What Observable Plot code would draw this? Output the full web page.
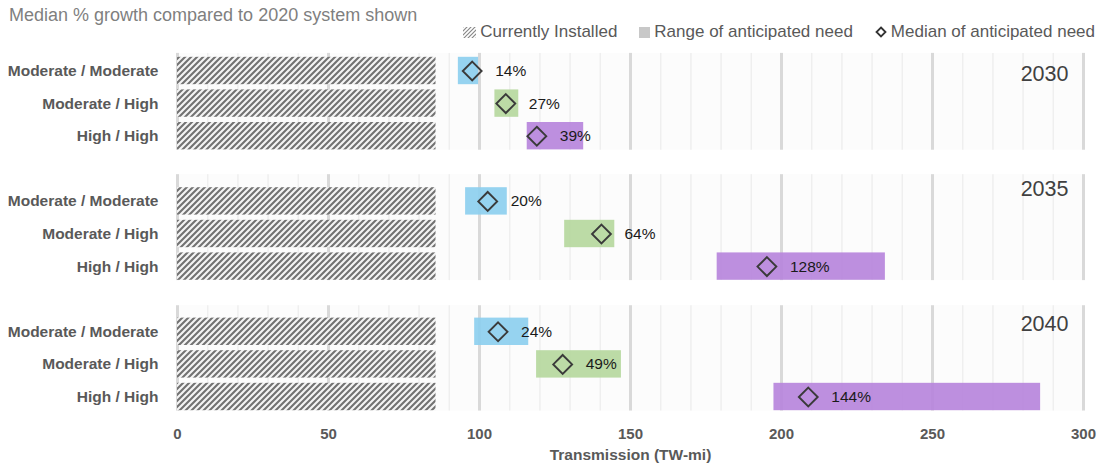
<!DOCTYPE html>
<html>
<head>
<meta charset="utf-8">
<script src="https://cdn.jsdelivr.net/npm/d3@7"></script>
<script src="https://cdn.jsdelivr.net/npm/@observablehq/plot@0.6"></script>
<style>
  body { margin: 0; background: #fff; font-family: "Liberation Sans", Arial, sans-serif; }
  #header { position: relative; width: 1104px; height: 44px; }
  #title { position: absolute; left: 9px; top: 6px; font-size: 18px; line-height: 18px; color: #7f7f7f; white-space: nowrap; }
  #legend { position: absolute; right: 9px; top: 23px; display: flex; align-items: center; font-size: 17px; line-height: 18px; color: #595959; white-space: nowrap; }
  #legend .item { display: flex; align-items: center; margin-left: 22px; }
  #legend .item svg { margin-right: 4px; }
</style>
</head>
<body>
<div id="header">
  <div id="title">Median % growth compared to 2020 system shown</div>
  <div id="legend"></div>
</div>
<div id="chart"></div>
<script>
// Transmission build-out scenarios (TW-mi)
const years = ["2030", "2035", "2040"];
const scenarios = ["Moderate / Moderate", "Moderate / High", "High / High"];
const scenarioColors = ["#8dcfef", "#b6d89e", "#b786dc"];

// 2020 system, currently installed
const installed = 85.6;

// Median growth over the 2020 system, %
const growth2030 = [14, 27, 39];
const growth2035 = [20, 64, 128];
const growth2040 = [24, 49, 144];

// Range of anticipated need [low, high]
const range2030 = [[93.0, 99.7], [105.1, 113.0], [115.8, 134.5]];
const range2035 = [[95.4, 109.2], [128.2, 144.8], [178.7, 234.4]];
const range2040 = [[98.4, 116.3], [118.9, 147.0], [197.5, 285.8]];

const xTicks = [0, 50, 100, 150, 200, 250, 300];
const axisTitle = "Transmission (TW-mi)";

// Layout: each year panel holds three rows, panels are 4 row-units apart
const growthByYear = [growth2030, growth2035, growth2040];
const rangeByYear = [range2030, range2035, range2040];
const panelTopPad = [0.54, 0.82, 0.80];
const yearLabelDrop = [0.86, 0.64, 0.79];
const half = 0.42;

const rows = years.flatMap((year, p) => scenarios.map((scenario, r) => ({
  year, scenario,
  idx: 4 * p + r,
  low: rangeByYear[p][r][0],
  high: rangeByYear[p][r][1],
  growth: growthByYear[p][r],
  median: installed * (1 + growthByYear[p][r] / 100)
})));

const panels = years.map((year, p) => ({
  year,
  top: 4 * p - panelTopPad[p],
  bottom: 4 * p + 2 + 0.43,
  labelY: 4 * p - panelTopPad[p] + yearLabelDrop[p]
}));

const minorTicks = d3.range(10, 300, 10).filter(v => v % 50 !== 0);
const minorRules = panels.flatMap(pn => minorTicks.map(x => ({x, y1: pn.top, y2: pn.bottom})));
const majorRules = panels.flatMap(pn => xTicks.map(x => ({x, y1: pn.top, y2: pn.bottom})));

const chart = Plot.plot({
  width: 1104,
  height: 428,
  marginLeft: 177,
  marginRight: 21,
  marginTop: 0,
  marginBottom: 61,
  style: { fontFamily: "'Liberation Sans', Arial, sans-serif", background: "transparent", overflow: "visible" },
  x: { domain: [0, 300] },
  y: { domain: [0, 10], range: [26.5, 352.5], axis: null },
  color: { domain: scenarios, range: scenarioColors },
  marks: [
    Plot.rect(panels, { x1: 0, x2: 300, y1: "top", y2: "bottom", fill: "#fcfcfc" }),
    Plot.ruleX(minorRules, { x: "x", y1: "y1", y2: "y2", stroke: "#efefef", strokeWidth: 1.5 }),
    Plot.ruleX(majorRules, { x: "x", y1: "y1", y2: "y2", stroke: "#d9d9d9", strokeWidth: 3 }),
    Plot.rect(rows, { x1: 0, x2: installed, y1: d => d.idx - half, y2: d => d.idx + half, fill: "url(#hatch)" }),
    Plot.rect(rows, { x1: "low", x2: "high", y1: d => d.idx - half, y2: d => d.idx + half, fill: "scenario", fillOpacity: 0.92 }),
    Plot.dot(rows, { x: "median", y: "idx", symbol: "diamond2", r: 8.5, stroke: "#3a3a3a", strokeWidth: 1.9, fill: "none" }),
    Plot.text(rows, { x: "median", y: "idx", text: d => `${d.growth}%`, dx: 23, textAnchor: "start", fontSize: 15.5, fill: "#1a1a1a" }),
    Plot.text(rows, { x: 0, y: "idx", text: "scenario", textAnchor: "end", dx: -19, fontSize: 15.5, fontWeight: "bold", fill: "#595959" }),
    Plot.text(panels, { x: 300, y: "labelY", text: "year", textAnchor: "end", dx: -15, lineAnchor: "bottom", fontSize: 21.5, fill: "#404040" }),
    Plot.axisX({ ticks: xTicks, tickSize: 0, tickPadding: 17, fontSize: 15, fontWeight: "bold", fill: "#595959", label: null }),
    Plot.text([axisTitle], { frameAnchor: "bottom", text: d => d, dy: 48, fontSize: 15.5, fontWeight: "bold", fill: "#595959" })
  ]
});

// Diagonal hatch used for the installed system
const defs = d3.select(chart).insert("defs", ":first-child");
const pat = defs.append("pattern")
  .attr("id", "hatch").attr("patternUnits", "userSpaceOnUse")
  .attr("width", 6).attr("height", 6);
pat.append("rect").attr("width", 6).attr("height", 6).attr("fill", "#f4f4f4");
pat.append("path")
  .attr("d", "M-1,1 l2,-2 M0,6 l6,-6 M5,7 l2,-2")
  .attr("stroke", "#727272").attr("stroke-width", 2.1);

document.getElementById("chart").append(chart);

// Legend
const legendItems = [
  { label: "Currently Installed", icon: `<svg width="13" height="11"><defs><pattern id="hatchKey" patternUnits="userSpaceOnUse" width="4" height="4"><path d="M-1,1 l2,-2 M0,4 l4,-4 M3,5 l2,-2" stroke="#888" stroke-width="1.2"/></pattern></defs><rect width="13" height="11" fill="url(#hatchKey)"/></svg>` },
  { label: "Range of anticipated need", icon: `<svg width="11" height="11"><rect width="11" height="11" fill="#c8c8c8"/></svg>` },
  { label: "Median of anticipated need", icon: `<svg width="12" height="12"><path d="M6,1.5 L10.5,6 L6,10.5 L1.5,6 Z" fill="none" stroke="#333" stroke-width="1.8"/></svg>` }
];
const legend = document.getElementById("legend");
legendItems.forEach(it => {
  const el = document.createElement("div");
  el.className = "item";
  el.innerHTML = it.icon + `<span>${it.label}</span>`;
  legend.append(el);
});
</script>
</body>
</html>
